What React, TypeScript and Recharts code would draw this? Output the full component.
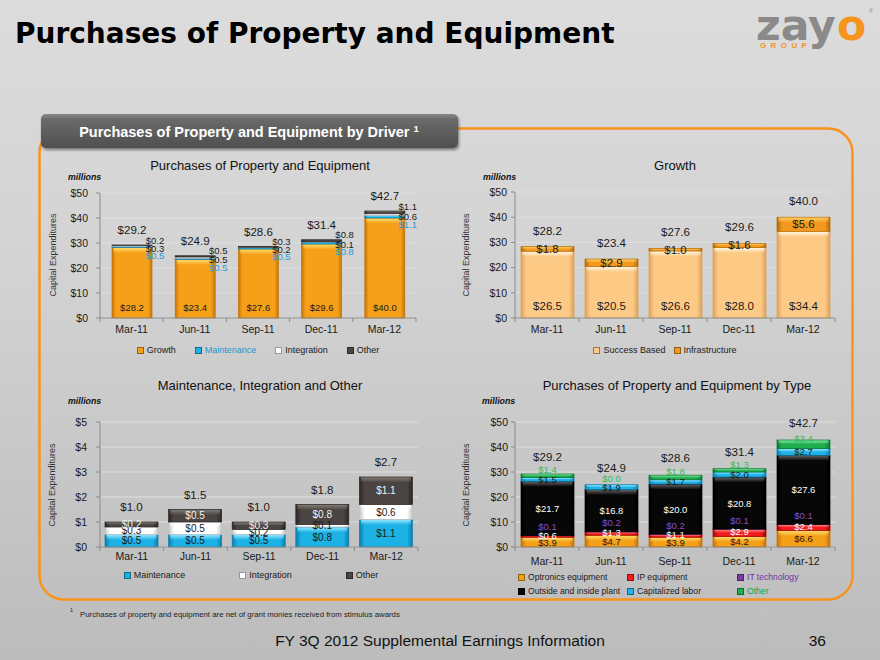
import React from 'react';
import { BarChart, Bar, XAxis, YAxis, CartesianGrid, LabelList, Legend } from 'recharts';

const SANS = "'Liberation Sans', Arial, sans-serif";

const quarters = ['Mar-11', 'Jun-11', 'Sep-11', 'Dec-11', 'Mar-12'];

// by driver
const growth = [28.2, 23.4, 27.6, 29.6, 40.0];
const maintenance = [0.5, 0.5, 0.5, 0.8, 1.1];
const integration = [0.3, 0.5, 0.2, 0.1, 0.6];
const other = [0.2, 0.5, 0.3, 0.8, 1.1];
const driverTotals = [29.2, 24.9, 28.6, 31.4, 42.7];

// growth split
const successBased = [26.5, 20.5, 26.6, 28.0, 34.4];
const infrastructure = [1.8, 2.9, 1.0, 1.6, 5.6];
const growthTotals = [28.2, 23.4, 27.6, 29.6, 40.0];

// maintenance, integration and other
const smallTotals = [1.0, 1.5, 1.0, 1.8, 2.7];

// by type
const optronics = [3.9, 4.7, 3.9, 4.2, 6.6];
const ipEquipment = [0.6, 1.3, 1.1, 2.9, 2.4];
const itTechnology = [0.1, 0.2, 0.2, 0.1, 0.1];
const outsidePlant = [21.7, 16.8, 20.0, 20.8, 27.6];
const capitalizedLabor = [1.5, 1.9, 1.7, 2.0, 2.7];
const otherType = [1.4, 0.0, 1.8, 1.3, 3.4];
const typeTotals = [29.2, 24.9, 28.6, 31.4, 42.7];

const ticks50 = [0, 10, 20, 30, 40, 50];
const ticks5 = [0, 1, 2, 3, 4, 5];

const driverRows = quarters.map((q, i) => ({
  q, growth: growth[i], maintenance: maintenance[i], integration: integration[i], other: other[i], total: driverTotals[i],
}));
const growthRows = quarters.map((q, i) => ({
  q, success: successBased[i], infra: infrastructure[i], total: growthTotals[i],
}));
const smallRows = quarters.map((q, i) => ({
  q, maintenance: maintenance[i], integration: integration[i], other: other[i], total: smallTotals[i],
}));
const typeRows = quarters.map((q, i) => ({
  q, optronics: optronics[i], ip: ipEquipment[i], it: itTechnology[i], plant: outsidePlant[i],
  labor: capitalizedLabor[i], other: otherType[i], total: typeTotals[i],
}));

type Tone = { id: string; base: string; edge: string; hi: string };

const tones: Record<string, Tone> = {
  growth: { id: 'growth', base: '#F6A01A', edge: '#C47306', hi: '#FFDB66' },
  maint: { id: 'maint', base: '#1DB2E6', edge: '#0A7DAE', hi: '#8FE6FF' },
  integ: { id: 'integ', base: '#FFFFFF', edge: '#C4C4C4', hi: '#FFFFFF' },
  otherGray: { id: 'otherGray', base: '#4A4542', edge: '#2A2624', hi: '#807a75' },
  success: { id: 'success', base: '#FDCA85', edge: '#DDA258', hi: '#FFF6E2' },
  infra: { id: 'infra', base: '#F39A1E', edge: '#B36905', hi: '#FFCE66' },
  ip: { id: 'ip', base: '#EE1C1C', edge: '#A60000', hi: '#FF8080' },
  it: { id: 'it', base: '#7D3CA8', edge: '#4C1D6E', hi: '#B583D8' },
  plant: { id: 'plant', base: '#070707', edge: '#000000', hi: '#606060' },
  labor: { id: 'labor', base: '#21B3E7', edge: '#0A7DAE', hi: '#8FE6FF' },
  otherGreen: { id: 'otherGreen', base: '#1FAE4E', edge: '#0B772E', hi: '#80E6A0' },
};

const GRID = '#dedede';
const AXIS = { stroke: '#8a8a8a' };
const tickStyle = { fontSize: 10.5, fill: '#1a1a1a', fontFamily: SANS };
const dollars = (v: number) => `$${v}`;
const money = (v: number) => `$${Number(v).toFixed(1)}`;

function Defs() {
  return (
    <svg width={0} height={0} style={{ position: 'absolute' }}>
      <defs>
        {Object.values(tones).map((t) => (
          <React.Fragment key={t.id}>
            <linearGradient id={`side-${t.id}`} x1="0" y1="0" x2="1" y2="0">
              <stop offset="0" stopColor={t.edge} />
              <stop offset="0.1" stopColor={t.base} />
              <stop offset="0.9" stopColor={t.base} />
              <stop offset="1" stopColor={t.edge} />
            </linearGradient>
            <linearGradient id={`top-${t.id}`} x1="0" y1="0" x2="0" y2="1">
              <stop offset="0" stopColor={t.hi} stopOpacity={1} />
              <stop offset="1" stopColor={t.hi} stopOpacity={0} />
            </linearGradient>
          </React.Fragment>
        ))}
      </defs>
    </svg>
  );
}

const bevel = (t: Tone) => (p: any) => {
  const { x, y, width, height } = p;
  if (!(height > 0)) return <g />;
  return (
    <g>
      <rect x={x} y={y} width={width} height={height} fill={`url(#side-${t.id})`} stroke={t.edge} strokeWidth={0.7} />
      {height > 2 && (
        <rect x={x + 1.5} y={y + 0.5} width={Math.max(0, width - 3)} height={Math.min(5, height * 0.45)} fill={`url(#top-${t.id})`} />
      )}
    </g>
  );
};

// category tick: label at the centre, small Excel-style marks at the category edges
const edgeTick = (margin: number) => (p: any) => {
  const { x, y, payload, index, visibleTicksCount } = p;
  const half = Number(payload?.offset) || 0;
  const axisY = y - margin;
  const last = index === (visibleTicksCount ?? 5) - 1;
  return (
    <g>
      {half > 0 && <line x1={x - half} x2={x - half} y1={axisY} y2={axisY + 4} stroke="#8a8a8a" />}
      {half > 0 && last && <line x1={x + half} x2={x + half} y1={axisY} y2={axisY + 4} stroke="#8a8a8a" />}
      <text x={x} y={y} dy="0.71em" textAnchor="middle" {...tickStyle}>{payload?.value}</text>
    </g>
  );
};

const centerLabel = (color: string, size: number, dy = 0) => (p: any) => (
  <text x={p.x + p.width / 2} y={p.y + p.height / 2 + dy} textAnchor="middle" dominantBaseline="central"
    fill={color} fontSize={size} fontFamily={SANS}>{money(p.value)}</text>
);

const bottomLabel = (color: string, size: number, off: number) => (p: any) => (
  <text x={p.x + p.width / 2} y={p.y + p.height - off} textAnchor="middle" dominantBaseline="central"
    fill={color} fontSize={size} fontFamily={SANS}>{money(p.value)}</text>
);

const sideLabel = (color: string, dy: number) => (p: any) => (
  <text x={p.x + p.width + 3} y={p.y + dy} textAnchor="middle" dominantBaseline="central"
    fill={color} fontSize={9.5} fontFamily={SANS}>{money(p.value)}</text>
);

const totalLabel = (totals: number[], off: number) => (p: any) => (
  <text x={p.x + p.width / 2} y={p.y - off} textAnchor="middle" dominantBaseline="central"
    fill="#1a1a1a" fontSize={11.5} fontFamily={SANS}>{money(p.value ?? totals[p.index])}</text>
);

type LegendOpts = {
  order: string[];
  gap?: number;
  size?: number;
  colors?: Record<string, string>;
  rows?: { names: string[]; widths: number[] }[];
  height: number;
};

const legendContent = (o: LegendOpts) => (props: any) => {
  const payload = (props.payload ?? []) as any[];
  const find = (n: string) => payload.find((e) => e.value === n);
  const item = (e: any, width?: number) => (
    <div key={String(e.value)} style={{ display: 'flex', alignItems: 'center', whiteSpace: 'nowrap', width, color: o.colors?.[e.value] ?? '#1a1a1a' }}>
      <span style={{ display: 'inline-block', width: 7, height: 7, marginRight: 3, background: e.color, border: '1px solid rgba(0,0,0,0.4)', boxSizing: 'border-box' }} />
      {e.value}
    </div>
  );
  const base = { fontFamily: SANS, fontSize: o.size ?? 9, lineHeight: '14px' };
  if (o.rows) {
    return (
      <div style={{ ...base, height: o.height, display: 'flex', flexDirection: 'column', justifyContent: 'center' }}>
        {o.rows.map((r, ri) => (
          <div key={ri} style={{ display: 'flex', height: 14 }}>
            {r.names.map((n, i) => { const e = find(n); return e ? item(e, r.widths[i]) : null; })}
          </div>
        ))}
      </div>
    );
  }
  return (
    <div style={{ ...base, display: 'flex', justifyContent: 'center', alignItems: 'center', columnGap: o.gap, height: o.height }}>
      {o.order.map((n) => { const e = find(n); return e ? item(e) : null; })}
    </div>
  );
};

function DriverChart() {
  return (
    <BarChart width={420} height={215} data={driverRows} margin={{ top: 43, right: 34, bottom: 7, left: 0 }}>
      <CartesianGrid vertical={false} stroke={GRID} />
      <XAxis dataKey="q" tickLine={false} axisLine={AXIS} tickSize={0} tickMargin={8} height={24} tick={edgeTick(8)} />
      <YAxis width={70} domain={[0, 50]} ticks={ticks50} tickFormatter={dollars} axisLine={AXIS} tickLine={AXIS} tickSize={4} tickMargin={8} tick={tickStyle} />
      <Legend
        content={legendContent({ order: ['Growth', 'Maintenance', 'Integration', 'Other'], gap: 19, height: 16, colors: { Maintenance: '#2296D0' } })}
        wrapperStyle={{ left: 70, width: 316 }}
      />
      <Bar dataKey="growth" name="Growth" stackId="a" barSize={40} fill={tones.growth.base} shape={bevel(tones.growth)} isAnimationActive={false}>
        <LabelList dataKey="growth" content={bottomLabel('#1a1a1a', 9.5, 11)} />
      </Bar>
      <Bar dataKey="maintenance" name="Maintenance" stackId="a" barSize={40} fill={tones.maint.base} shape={bevel(tones.maint)} isAnimationActive={false}>
        <LabelList dataKey="maintenance" content={sideLabel('#2A9AD4', 9)} />
      </Bar>
      <Bar dataKey="integration" name="Integration" stackId="a" barSize={40} fill={tones.integ.base} shape={bevel(tones.integ)} isAnimationActive={false}>
        <LabelList dataKey="integration" content={sideLabel('#1a1a1a', 2.5)} />
      </Bar>
      <Bar dataKey="other" name="Other" stackId="a" barSize={40} fill={tones.otherGray.base} shape={bevel(tones.otherGray)} isAnimationActive={false}>
        <LabelList dataKey="other" content={sideLabel('#1a1a1a', -5)} />
        <LabelList dataKey="total" content={totalLabel(driverTotals, 15)} />
      </Bar>
    </BarChart>
  );
}

function GrowthChart() {
  return (
    <BarChart width={400} height={215} data={growthRows} margin={{ top: 42, right: 15, bottom: 7, left: 0 }}>
      <CartesianGrid vertical={false} stroke={GRID} />
      <XAxis dataKey="q" tickLine={false} axisLine={AXIS} tickSize={0} tickMargin={8} height={24} tick={edgeTick(8)} />
      <YAxis width={65} domain={[0, 50]} ticks={ticks50} tickFormatter={dollars} axisLine={AXIS} tickLine={AXIS} tickSize={4} tickMargin={4} tick={tickStyle} />
      <Legend content={legendContent({ order: ['Success Based', 'Infrastructure'], gap: 8, height: 16 })} wrapperStyle={{ left: 55, width: 320 }} />
      <Bar dataKey="success" name="Success Based" stackId="g" barSize={53} fill={tones.success.base} shape={bevel(tones.success)} isAnimationActive={false}>
        <LabelList dataKey="success" content={bottomLabel('#1a1a1a', 11.5, 12)} />
      </Bar>
      <Bar dataKey="infra" name="Infrastructure" stackId="g" barSize={53} fill={tones.infra.base} shape={bevel(tones.infra)} isAnimationActive={false}>
        <LabelList dataKey="infra" content={centerLabel('#1a1a1a', 11.5)} />
        <LabelList dataKey="total" content={totalLabel(growthTotals, 16)} />
      </Bar>
    </BarChart>
  );
}

function SmallChart() {
  return (
    <BarChart width={420} height={215} data={smallRows} margin={{ top: 52, right: 32, bottom: 2, left: 0 }}>
      <CartesianGrid vertical={false} stroke={GRID} />
      <XAxis dataKey="q" tickLine={false} axisLine={AXIS} tickSize={0} tickMargin={6} height={20} tick={edgeTick(6)} />
      <YAxis width={70} domain={[0, 5]} ticks={ticks5} tickFormatter={dollars} axisLine={AXIS} tickLine={AXIS} tickSize={4} tickMargin={9} tick={tickStyle} />
      <Legend content={legendContent({ order: ['Maintenance', 'Integration', 'Other'], gap: 54, height: 16 })} wrapperStyle={{ left: 62, width: 318 }} />
      <Bar dataKey="maintenance" name="Maintenance" stackId="m" barSize={53} fill={tones.maint.base} shape={bevel(tones.maint)} isAnimationActive={false}>
        <LabelList dataKey="maintenance" content={centerLabel('#1a1a1a', 10)} />
      </Bar>
      <Bar dataKey="integration" name="Integration" stackId="m" barSize={53} fill={tones.integ.base} shape={bevel(tones.integ)} isAnimationActive={false}>
        <LabelList dataKey="integration" content={centerLabel('#1a1a1a', 10)} />
      </Bar>
      <Bar dataKey="other" name="Other" stackId="m" barSize={53} fill={tones.otherGray.base} shape={bevel(tones.otherGray)} isAnimationActive={false}>
        <LabelList dataKey="other" content={centerLabel('#f2f2f2', 10)} />
        <LabelList dataKey="total" content={totalLabel(smallTotals, 15)} />
      </Bar>
    </BarChart>
  );
}

function TypeChart() {
  return (
    <BarChart width={400} height={230} data={typeRows} margin={{ top: 52, right: 15, bottom: 1, left: 0 }}>
      <CartesianGrid vertical={false} stroke={GRID} />
      <XAxis dataKey="q" tickLine={false} axisLine={AXIS} tickSize={0} tickMargin={10.5} height={22} tick={edgeTick(10.5)} />
      <YAxis width={65} domain={[0, 50]} ticks={ticks50} tickFormatter={dollars} axisLine={AXIS} tickLine={AXIS} tickSize={4} tickMargin={3} tick={tickStyle} />
      <Legend
        content={legendContent({
          order: [],
          size: 8.6,
          height: 30,
          colors: { 'IT technology': '#7030A0', Other: '#00A84A' },
          rows: [
            { names: ['Optronics equipment', 'IP equipment', 'IT technology'], widths: [109, 110] },
            { names: ['Outside and inside plant', 'Capitalized labor', 'Other'], widths: [109, 110] },
          ],
        })}
        wrapperStyle={{ left: 68, width: 320 }}
      />
      <Bar dataKey="optronics" name="Optronics equipment" stackId="t" barSize={53} fill={tones.growth.base} shape={bevel(tones.growth)} isAnimationActive={false}>
        <LabelList dataKey="optronics" content={centerLabel('#1a1a1a', 9.5)} />
      </Bar>
      <Bar dataKey="ip" name="IP equipment" stackId="t" barSize={53} fill={tones.ip.base} shape={bevel(tones.ip)} isAnimationActive={false}>
        <LabelList dataKey="ip" content={centerLabel('#ffffff', 9.5, -1)} />
      </Bar>
      <Bar dataKey="it" name="IT technology" stackId="t" barSize={53} fill={tones.it.base} shape={bevel(tones.it)} isAnimationActive={false}>
        <LabelList dataKey="it" content={centerLabel('#8A4CC4', 9.5, -9)} />
      </Bar>
      <Bar dataKey="plant" name="Outside and inside plant" stackId="t" barSize={53} fill={tones.plant.base} shape={bevel(tones.plant)} isAnimationActive={false}>
        <LabelList dataKey="plant" content={centerLabel('#ffffff', 9.5)} />
      </Bar>
      <Bar dataKey="labor" name="Capitalized labor" stackId="t" barSize={53} fill={tones.labor.base} shape={bevel(tones.labor)} isAnimationActive={false}>
        <LabelList dataKey="labor" content={centerLabel('#1a1a1a', 9.5)} />
      </Bar>
      <Bar dataKey="other" name="Other" stackId="t" barSize={53} fill={tones.otherGreen.base} shape={bevel(tones.otherGreen)} isAnimationActive={false}>
        <LabelList dataKey="other" content={centerLabel('#2DBE62', 9.5, -6)} />
        <LabelList dataKey="total" content={totalLabel(typeTotals, 17)} />
      </Bar>
    </BarChart>
  );
}

function ChartText({ cx, cy, title, mx, my, lx, ly }: { cx: number; cy: number; title: string; mx: number; my: number; lx: number; ly: number }) {
  return (
    <g>
      <text x={cx} y={cy} textAnchor="middle" dominantBaseline="central" fontFamily={SANS} fontSize={13} fill="#111">{title}</text>
      <text x={mx} y={my} dominantBaseline="central" fontFamily={SANS} fontSize={8.8} fontWeight="bold" fontStyle="italic" fill="#111">millions</text>
      <text x={lx} y={ly} textAnchor="middle" dominantBaseline="central" fontFamily={SANS} fontSize={9} fill="#333" transform={`rotate(-90 ${lx} ${ly})`}>Capital Expenditures</text>
    </g>
  );
}

function Backdrop() {
  const logoFont = "'DejaVu Sans', sans-serif";
  return (
    <svg width={880} height={660} style={{ position: 'absolute', left: 0, top: 0 }}>
      <defs>
        <linearGradient id="tabFill" x1="0" y1="0" x2="0" y2="1">
          <stop offset="0" stopColor="#8a8a8a" />
          <stop offset="0.15" stopColor="#6a6a6a" />
          <stop offset="1" stopColor="#4f4f4f" />
        </linearGradient>
        <filter id="tabShadow" x="-5%" y="-20%" width="110%" height="160%">
          <feDropShadow dx="1" dy="2" stdDeviation="1.5" floodColor="#000" floodOpacity="0.45" />
        </filter>
      </defs>

      <text x={15} y={43} fontFamily={logoFont} fontWeight="bold" fontSize={28} fill="#000">
        Purchases of Property and Equipment
      </text>

      <text x={756} y={39.5} fontFamily={logoFont} fontWeight="bold" fontSize={42.5} fill="#8a8a8a">zay</text>
      <text x={837} y={39.5} fontFamily={logoFont} fontWeight="bold" fontSize={42.5} fill="#F7941D">o</text>
      <text x={760} y={47.5} fontFamily={SANS} fontWeight="bold" fontSize={8} letterSpacing={4.4} fill="#F7941D">GROUP</text>
      <text x={869} y={13} fontFamily={SANS} fontSize={5.5} fill="#888">®</text>

      <rect x={39.5} y={128.5} width={813} height={471} rx={24} fill="none" stroke="#F7941D" strokeWidth={2.5} />

      <rect x={41} y={114} width={417} height={34} rx={5} fill="url(#tabFill)" filter="url(#tabShadow)" />
      <text x={249} y={136.5} textAnchor="middle" fontFamily={SANS} fontWeight="bold" fontSize={14.5} fill="#fff">
        Purchases of Property and Equipment by Driver <tspan fontSize={9.5} dy={-5}>1</tspan>
      </text>

      <ChartText cx={260} cy={165} title="Purchases of Property and Equipment" mx={68} my={177} lx={53} ly={255} />
      <ChartText cx={675} cy={165} title="Growth" mx={483} my={177} lx={466} ly={255} />
      <ChartText cx={260} cy={385} title="Maintenance, Integration and Other" mx={68} my={401} lx={52} ly={485} />
      <ChartText cx={677} cy={385} title="Purchases of Property and Equipment by Type" mx={482} my={401} lx={466} ly={485} />

      <text x={70} y={612} fontFamily={SANS} fontSize={5.5} fill="#222">1</text>
      <text x={80} y={617} fontFamily={SANS} fontSize={7.8} fill="#222">
        Purchases of property and equipment are net of grant monies received from stimulus awards
      </text>
      <text x={440} y={646} textAnchor="middle" fontFamily={SANS} fontSize={15.5} fill="#111">
        FY 3Q 2012 Supplemental Earnings Information
      </text>
      <text x={826} y={646} textAnchor="end" fontFamily={SANS} fontSize={15.5} fill="#111">36</text>
    </svg>
  );
}

export default function App() {
  return (
    <div style={{
      position: 'fixed', left: 0, top: 0, width: 880, height: 660, overflow: 'hidden',
      background: 'linear-gradient(180deg, #dcdcdc 0%, #d3d3d3 40%, #bcbcbc 100%)',
    }}>
      <Defs />
      <Backdrop />
      <div style={{ position: 'absolute', left: 30, top: 150 }}><DriverChart /></div>
      <div style={{ position: 'absolute', left: 450, top: 150 }}><GrowthChart /></div>
      <div style={{ position: 'absolute', left: 30, top: 370 }}><SmallChart /></div>
      <div style={{ position: 'absolute', left: 450, top: 370 }}><TypeChart /></div>
    </div>
  );
}
